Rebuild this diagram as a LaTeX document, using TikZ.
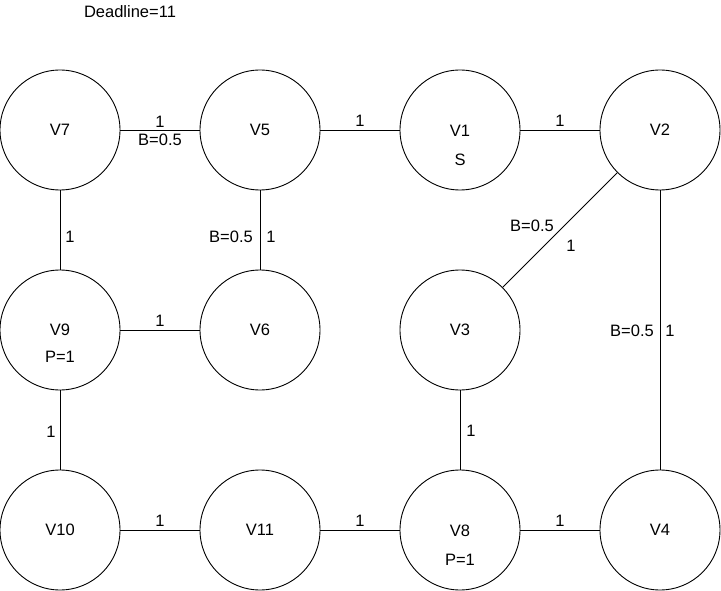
\documentclass[tikz,border=0pt]{standalone}
\usepackage{fontspec}
\setmainfont{Liberation Sans}
\tikzset{
  vtx/.style={draw, circle, minimum size=120pt, inner sep=0pt, line width=0.9pt, font=\fontsize{16.5}{19}\selectfont},
  txt/.style={inner sep=0pt, font=\fontsize{16.5}{19}\selectfont},
  edge/.style={line width=0.9pt},
}
\begin{document}
\begin{tikzpicture}[x=1pt,y=-1pt]
\useasboundingbox (0,0) rectangle (721,591);
\node[txt] (dl) at (130,12) {Deadline=11};
% vertices
\node[vtx] (v7) at (60,130) {V7};
\node[vtx] (v5) at (260,130) {V5};
\node[vtx] (v1) at (460,130) {};
\node[vtx] (v2) at (660,130) {V2};
\node[vtx] (v9) at (60,330) {};
\node[vtx] (v6) at (260,330) {V6};
\node[vtx] (v3) at (460,330) {V3};
\node[vtx] (v10) at (60,530) {V10};
\node[vtx] (v11) at (260,530) {V11};
\node[vtx] (v8) at (460,530) {};
\node[vtx] (v4) at (660,530) {V4};
% inner texts
\node[txt] (v1a) at (460,131) {V1};
\node[txt] (v1b) at (460,160) {S};
\node[txt] (v9a) at (60,330) {V9};
\node[txt] (v9b) at (60,357) {P=1};
\node[txt] (v8a) at (460,531) {V8};
\node[txt] (v8b) at (460,560) {P=1};
% edges
\draw[edge] (v7) -- (v5)
  node[txt, midway, yshift=8] {1}
  node[txt, midway, yshift=-10] {B=0.5};
\draw[edge] (v5) -- (v1) node[txt, midway, yshift=9] {1};
\draw[edge] (v1) -- (v2) node[txt, midway, yshift=9] {1};
\draw[edge] (v7) -- (v9) node[txt, midway, xshift=10, yshift=-7] {1};
\draw[edge] (v5) -- (v6)
  node[txt, midway, xshift=-29, yshift=-7] {B=0.5}
  node[txt, midway, xshift=11, yshift=-7] {1};
\draw[edge] (v9) -- (v6) node[txt, midway, yshift=9] {1};
\draw[edge] (v9) -- (v10) node[txt, midway, xshift=-9, yshift=-2] {1};
\draw[edge] (v3) -- (v8) node[txt, midway, xshift=11, yshift=-1] {1};
\draw[edge] (v2) -- (v4)
  node[txt, midway, xshift=-28, yshift=-1] {B=0.5}
  node[txt, midway, xshift=10, yshift=-1] {1};
\draw[edge] (v2) -- (v3)
  node[txt, midway, xshift=-28, yshift=4] {B=0.5}
  node[txt, midway, xshift=11, yshift=-16] {1};
\draw[edge] (v10) -- (v11) node[txt, midway, yshift=9] {1};
\draw[edge] (v11) -- (v8) node[txt, midway, yshift=9] {1};
\draw[edge] (v8) -- (v4) node[txt, midway, yshift=9] {1};
\end{tikzpicture}
\end{document}
